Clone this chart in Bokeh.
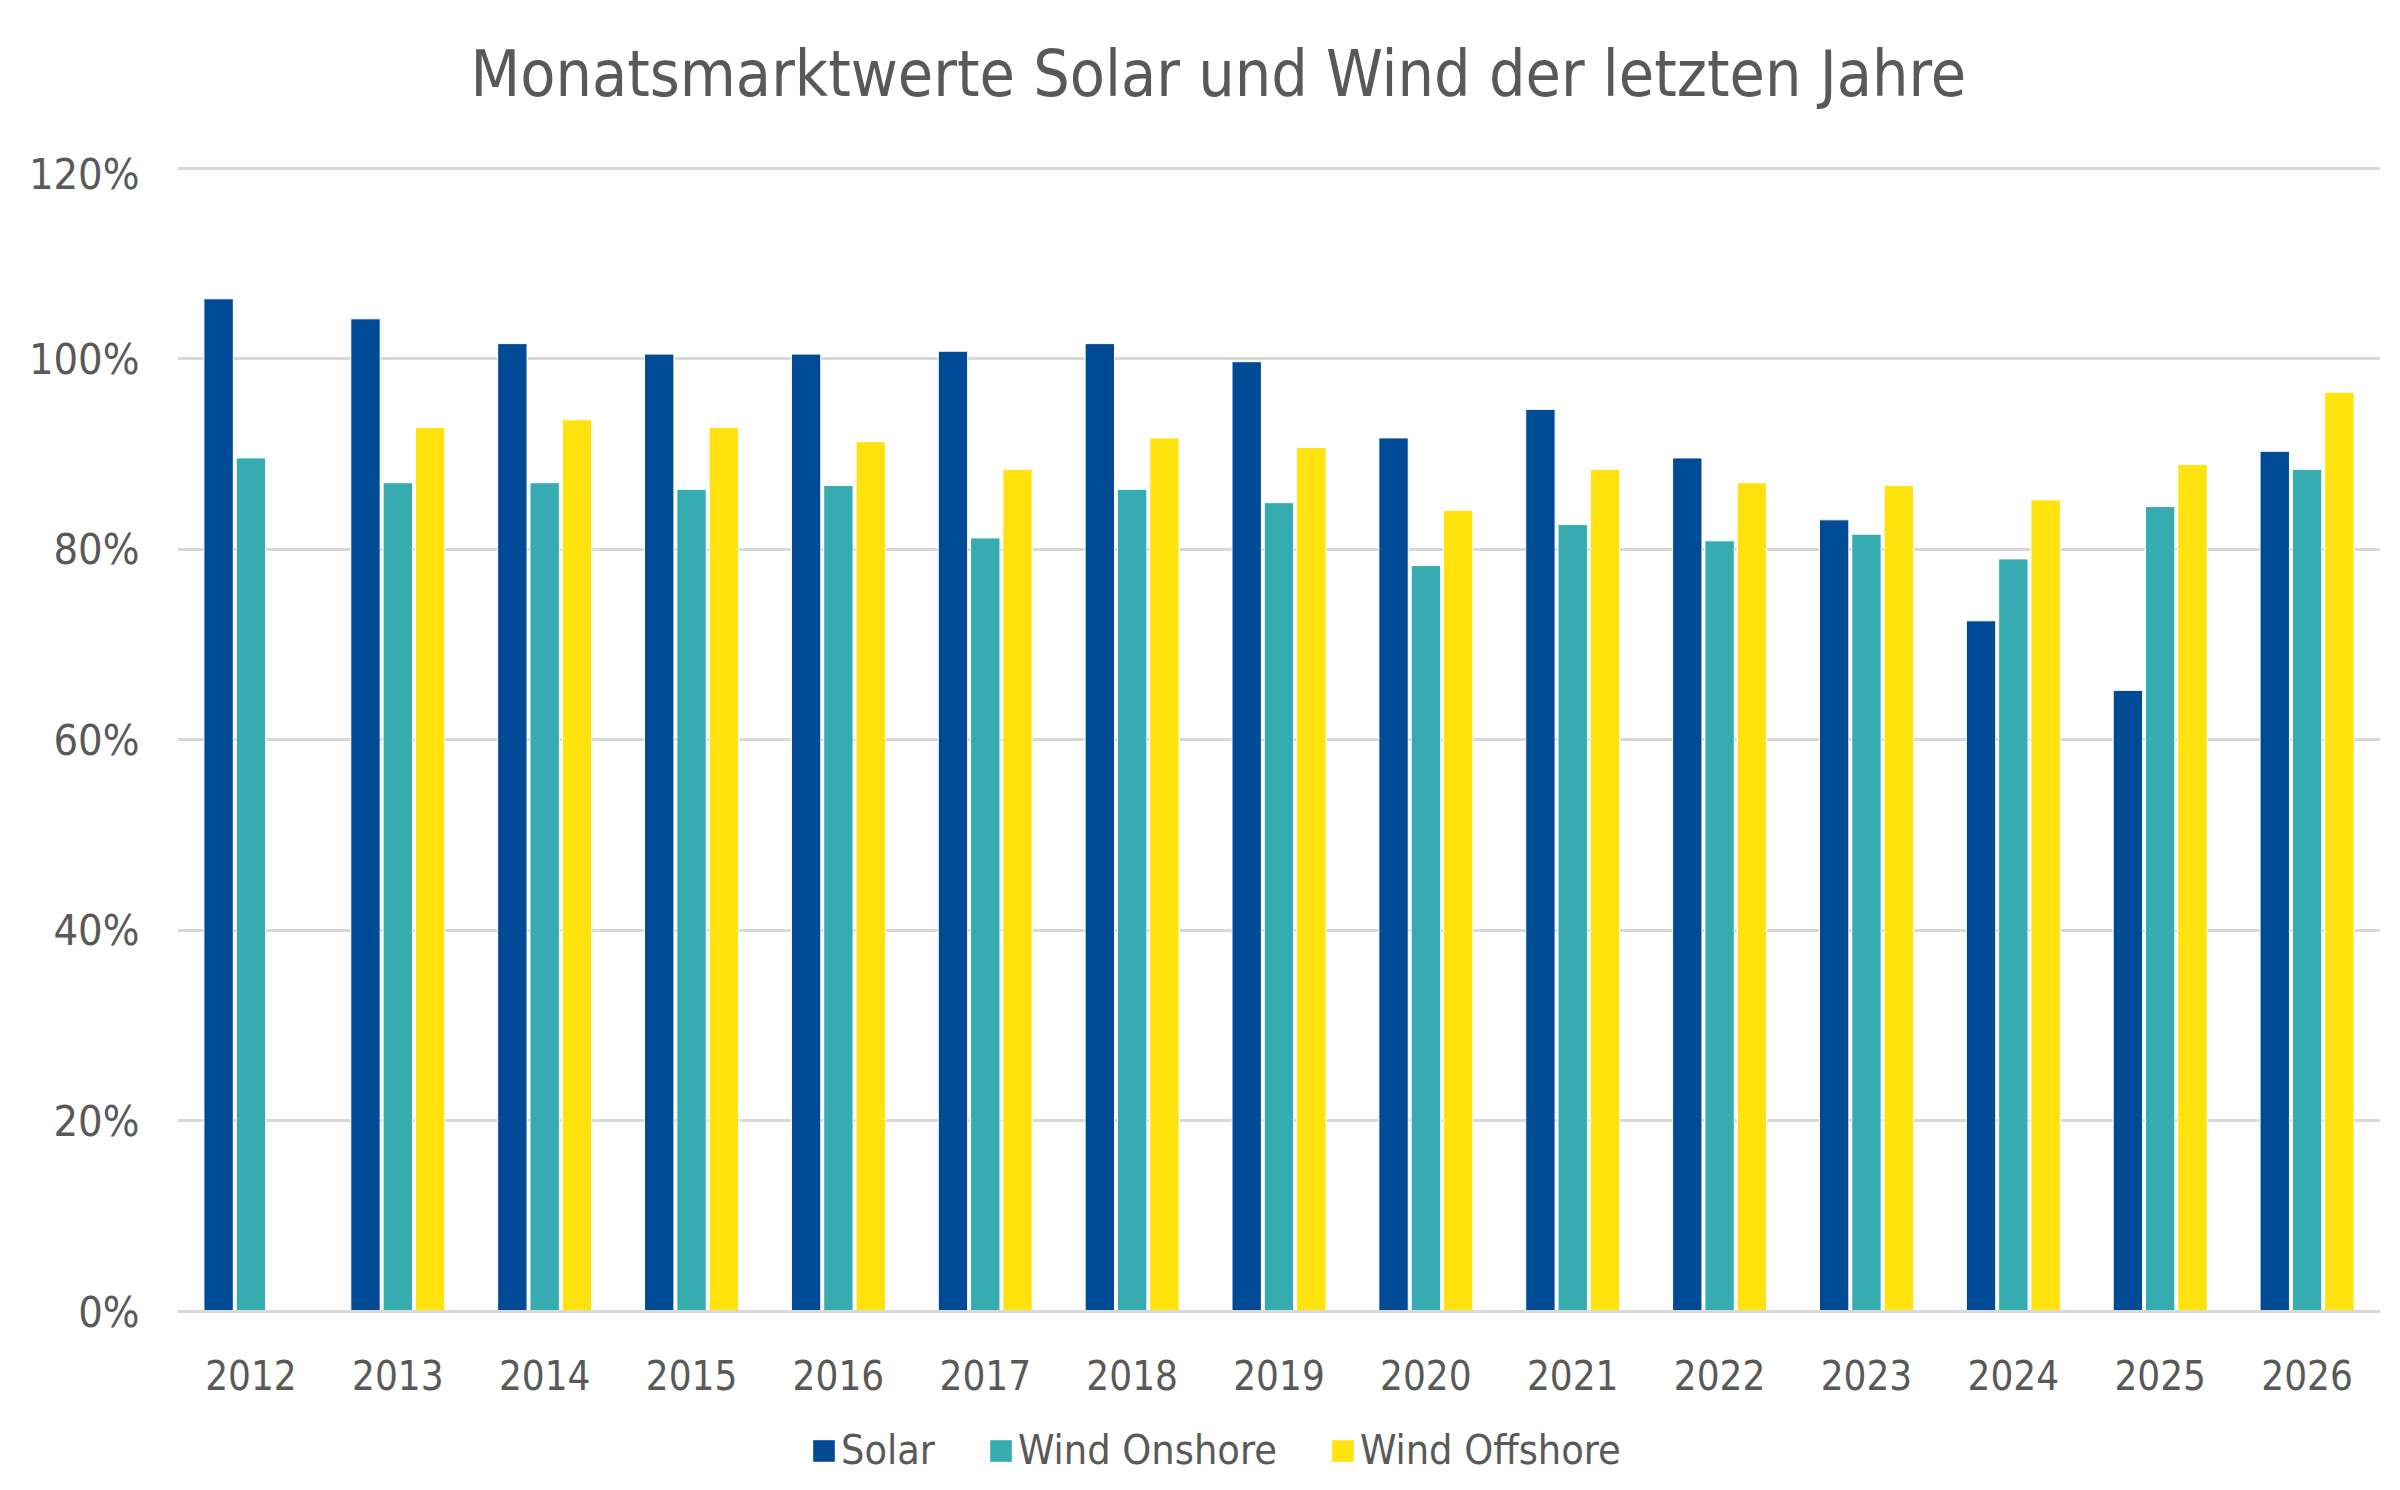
from bokeh.plotting import figure
from bokeh.layouts import column
from bokeh.models import (ColumnDataSource, FactorRange, Range1d, FixedTicker,
                          PrintfTickFormatter, Legend, LegendItem)
from bokeh.transform import dodge
from bokeh.embed import file_html
from bokeh.resources import INLINE

years = [str(y) for y in range(2012, 2027)]
solar = [106.3, 104.2, 101.6, 100.5, 100.5, 100.8, 101.6, 99.7, 91.7, 94.7, 89.6, 83.1, 72.5, 65.2, 90.3]
wind_onshore = [89.6, 87.0, 87.0, 86.3, 86.7, 81.2, 86.3, 84.9, 78.3, 82.6, 80.9, 81.6, 79.0, 84.5, 88.4]
wind_offshore = [None, 92.8, 93.6, 92.8, 91.3, 88.4, 91.7, 90.7, 84.1, 88.4, 87.0, 86.7, 85.2, 88.9, 96.5]
y_ticks = [0, 20, 40, 60, 80, 100, 120]
series_names = ["Solar", "Wind Onshore", "Wind Offshore"]
series_colors = ["#004A96", "#37ACB0", "#FFE20E"]

FONT = "DejaVu Sans Condensed"
GRAY = "#595959"

src = ColumnDataSource(dict(
    year=years, solar=solar, onshore=wind_onshore,
    offshore=[float("nan") if v is None else v for v in wind_offshore]))
cols = ["solar", "onshore", "offshore"]
offsets = [-0.22, 0.0, 0.22]

W = 2384
H_TITLE = 148
H_MAIN = 1262
H_LEG = 64


def blank(height):
    f = figure(width=W, height=height, output_backend="svg", toolbar_location=None,
               x_range=FactorRange(*years, range_padding=0), y_range=Range1d(1000, 1001),
               min_border_left=0, min_border_right=0, min_border_top=0,
               min_border_bottom=0, x_axis_location=None, y_axis_location=None)
    f.outline_line_color = None
    f.grid.grid_line_color = None
    f.background_fill_color = "white"
    f.border_fill_color = "white"
    return f


# title strip
t = blank(H_TITLE)
t.title.text = "Monatsmarktwerte Solar und Wind der letzten Jahre"
t.title.align = "left"
t.title.offset = 293
t.title.text_font = FONT
t.title.text_font_size = "64px"
t.title.text_font_style = "normal"
t.title.text_color = GRAY
t.title.standoff = 68

# main chart
p = figure(width=W, height=H_MAIN, output_backend="svg", toolbar_location=None,
           x_range=FactorRange(*years, range_padding=0), y_range=Range1d(0, 120.4),
           min_border_left=177, min_border_right=4, min_border_top=16,
           min_border_bottom=99)
p.outline_line_color = None
p.background_fill_color = "white"
p.border_fill_color = "white"

for c, off, col in zip(cols, offsets, series_colors):
    p.vbar(x=dodge("year", off, range=p.x_range), top=c, width=0.2, source=src,
           fill_color=col, line_color="white", line_width=1)

p.xgrid.grid_line_color = None
p.ygrid.grid_line_color = "#D9D9D9"
p.ygrid.grid_line_width = 3
p.yaxis.ticker = FixedTicker(ticks=y_ticks)
p.yaxis.formatter = PrintfTickFormatter(format="%d%%")

for ax in (p.xaxis, p.yaxis):
    ax.major_tick_line_color = None
    ax.minor_tick_line_color = None
    ax.major_label_text_font = FONT
    ax.major_label_text_color = GRAY
p.xaxis.major_label_text_font_size = "40px"
p.yaxis.major_label_text_font_size = "43px"
p.yaxis.axis_line_color = None
p.yaxis.major_label_standoff = 32
p.xaxis.axis_line_color = "#D9D9D9"
p.xaxis.axis_line_width = 3
p.xaxis.major_label_standoff = 42

# legend strip below the chart
q = blank(H_LEG)
items = []
for name, c, off, col in zip(series_names, cols, offsets, series_colors):
    r = q.vbar(x=dodge("year", off, range=q.x_range), top=c, width=0.2, source=src,
               fill_color=col, line_color=None)
    items.append(LegendItem(label=name, renderers=[r]))

legend = Legend(items=items, orientation="horizontal", location=(633, 0),
                glyph_width=27, glyph_height=27, label_standoff=4, spacing=52,
                padding=0, margin=0, border_line_color=None, background_fill_alpha=0,
                label_text_font=FONT, label_text_font_size="41px",
                label_text_color=GRAY)
q.add_layout(legend, "center")

layout = column(t, p, q, spacing=0)
open("out.html", "w").write(file_html(layout, INLINE))
